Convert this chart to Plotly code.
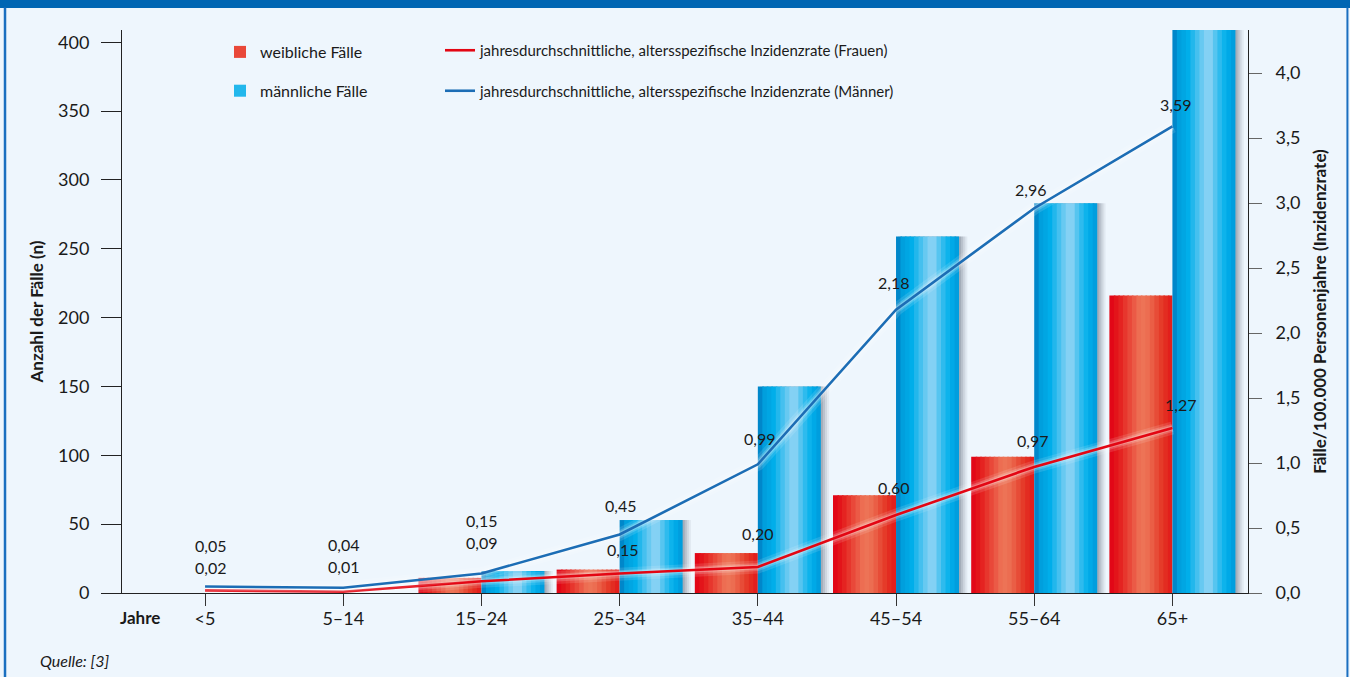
import plotly.graph_objects as go
import numpy as np

# ---------------- data ----------------
categories = ["<5", "5–14", "15–24", "25–34", "35–44", "45–54", "55–64", "65+"]
female_cases = [0, 0, 11, 17, 29, 71, 99, 216]
male_cases = [0, 0, 16, 53, 150, 259, 283, 430]
female_rate = [0.02, 0.01, 0.09, 0.15, 0.20, 0.60, 0.97, 1.27]
male_rate = [0.05, 0.04, 0.15, 0.45, 0.99, 2.18, 2.96, 3.59]
left_ticks = [0, 50, 100, 150, 200, 250, 300, 350, 400]
right_ticks = [0.0, 0.5, 1.0, 1.5, 2.0, 2.5, 3.0, 3.5, 4.0]
series_names = ["weibliche Fälle", "männliche Fälle"]
line_names = ["jahresdurchschnittliche, altersspezifische Inzidenzrate (Frauen)",
              "jahresdurchschnittliche, altersspezifische Inzidenzrate (Männer)"]

# ---------------- styling ----------------
FONT = "Lato, sans-serif"
BG = "#eef6fd"
TXT = "#1a1a1a"
RED_LINE = "#e30613"
BLUE_LINE = "#1c6db5"

red_stops = [(0.0, (226, 0, 22)), (0.15, (228, 28, 28)), (0.5, (238, 118, 88)),
             (0.62, (236, 108, 80)), (0.85, (228, 52, 36)), (1.0, (225, 24, 26))]
blue_stops = [(0.0, (0, 122, 192)), (0.1, (0, 158, 220)), (0.25, (0, 174, 234)),
              (0.5, (120, 205, 242)), (0.58, (148, 214, 246)), (0.72, (60, 190, 238)),
              (0.85, (0, 176, 236)), (1.0, (0, 152, 218))]


def grad(stops, t):
    ps = [s[0] for s in stops]
    c = [int(round(np.interp(t, ps, [s[1][i] for s in stops]))) for i in range(3)]
    return f"rgb({c[0]},{c[1]},{c[2]})"


W = 0.456          # width of a single bar in category units
N = 14             # stripes per bar to emulate the cylinder gradient
sw = W / N

fig = go.Figure()

# soft shadow behind the male bars
for dx, op in [(0.06, 0.08), (0.045, 0.12), (0.03, 0.16), (0.015, 0.2)]:
    fig.add_trace(go.Bar(x=categories, y=male_cases, offset=dx, width=W,
                         marker=dict(color=f"rgba(80,90,105,{op})", line=dict(width=0)),
                         showlegend=False, hoverinfo="skip"))

for vals, stops, start, name in [(female_cases, red_stops, -W, series_names[0]),
                                 (male_cases, blue_stops, 0.0, series_names[1])]:
    for k in range(N):
        t = (k + 0.5) / N
        last = k == N - 1
        fig.add_trace(go.Bar(
            x=categories, y=vals, offset=start + k * sw,
            width=sw if last else sw * 1.35,
            marker=dict(color=grad(stops, t), line=dict(width=0)),
            name=name, showlegend=(k == 4), legend="legend",
            legendgroup=name, hoverinfo="skip"))

# rate lines with a soft white glow
for vals, col, name in [(female_rate, RED_LINE, line_names[0]),
                        (male_rate, BLUE_LINE, line_names[1])]:
    for wd, op in [(13, 0.12), (8, 0.18), (5, 0.25)]:
        fig.add_trace(go.Scatter(x=categories, y=vals, yaxis="y2", mode="lines",
                                 line=dict(color=f"rgba(255,255,255,{op})", width=wd),
                                 showlegend=False, hoverinfo="skip"))
    fig.add_trace(go.Scatter(x=categories, y=vals, yaxis="y2", mode="lines",
                             line=dict(color=col, width=2.6), name=name,
                             legend="legend2", legendgroup=name))

# value labels (offsets only for placement)
male_shift = [41, 43, 53, 29, 26, 27, 19, 22]
male_xshift = [5, 0, 0, 1, 2, -3, -4, 3]
female_shift = [23, 25, 39, 24, 34, 28, 26, 23]
female_xshift = [5, 0, 0, 3, 0, -3, -2, 8]
annotations = []
for vals, ys, xs in [(male_rate, male_shift, male_xshift),
                     (female_rate, female_shift, female_xshift)]:
    for c, v, s, xsh in zip(categories, vals, ys, xs):
        annotations.append(dict(x=c, y=v, xref="x", yref="y2", yshift=s, xshift=xsh,
                                text=f"{v:.2f}".replace(".", ","), showarrow=False,
                                font=dict(size=16, color=TXT)))

annotations.append(dict(x=0.016, y=(593 - 617) / 563, xref="paper", yref="paper",
                        text="<b>Jahre</b>", showarrow=False, xanchor="center",
                        yanchor="middle", font=dict(size=17, color=TXT)))
annotations.append(dict(x=-0.0746, y=(593 - 660) / 563, xref="paper", yref="paper",
                        text="<i>Quelle: [3]</i>", showarrow=False, xanchor="left",
                        yanchor="middle", font=dict(size=16, color=TXT)))

shapes = [
    dict(type="rect", xref="paper", yref="paper", x0=-0.12, x1=1.1, y0=1.0392, y1=1.07,
         fillcolor="#0066b3", line=dict(width=0), layer="above"),
    dict(type="line", xref="paper", yref="paper", x0=-0.1039, x1=-0.1039, y0=-0.2, y1=1.04,
         line=dict(color="#1a6fc0", width=2.5)),
    dict(type="line", xref="paper", yref="paper", x0=1.0883, x1=1.0883, y0=-0.2, y1=1.04,
         line=dict(color="#1a6fc0", width=2)),
]

LRANGE = [0, 408.9]
RRANGE = [0, 4.331]

fig.update_layout(
    template="none",
    width=1350, height=677,
    margin=dict(l=122, r=102, t=30, b=84),
    paper_bgcolor=BG, plot_bgcolor=BG,
    separators=",.",
    barmode="overlay",
    font=dict(family=FONT, size=15, color=TXT),
    xaxis=dict(type="category", range=[-0.601, 7.547], showline=True, linecolor="#222",
               linewidth=1, ticks="outside", ticklen=12, tickcolor="#333", tickwidth=1,
               tickfont=dict(size=18), ticklabelstandoff=-3, showgrid=False,
               zeroline=False, automargin=False),
    yaxis=dict(range=LRANGE, tickvals=left_ticks, ticks="outside", ticklen=20,
               tickcolor="#222", tickwidth=1, showline=True, linecolor="#222",
               linewidth=1, tickfont=dict(size=18), ticklabelstandoff=8,
               showgrid=False, zeroline=False, automargin=False,
               title=dict(text="<b>Anzahl der Fälle (n)</b>", font=dict(size=17),
                          standoff=10)),
    yaxis2=dict(range=RRANGE, tickvals=right_ticks, tickformat=".1f", overlaying="y",
                side="right", anchor="x", ticks="outside", ticklen=13, tickcolor="#666",
                tickwidth=1, showline=True, linecolor="#222", linewidth=1,
                tickfont=dict(size=18), ticklabelstandoff=10, showgrid=False,
                zeroline=False, automargin=False,
                title=dict(text="<b>Fälle/100.000 Personenjahre (Inzidenzrate)</b>",
                           font=dict(size=17), standoff=14)),
    yaxis3=dict(range=LRANGE, tickvals=left_ticks, overlaying="y", side="left",
                anchor="x", ticks="inside", ticklen=18, tickcolor="#222", tickwidth=1,
                showticklabels=False, showline=False, showgrid=False, zeroline=False,
                automargin=False),
    legend=dict(x=(220 - 122) / 1126, y=(593 - 35) / 563, xanchor="left", yanchor="top",
                bgcolor="rgba(0,0,0,0)", font=dict(size=16), tracegroupgap=15,
                itemclick=False),
    legend2=dict(x=(440 - 122) / 1126, y=(593 - 34) / 563, xanchor="left", yanchor="top",
                 bgcolor="rgba(0,0,0,0)", font=dict(size=15), tracegroupgap=18,
                 itemclick=False),
    annotations=annotations,
    shapes=shapes,
    showlegend=True,
)

fig.write_html("out.html")
